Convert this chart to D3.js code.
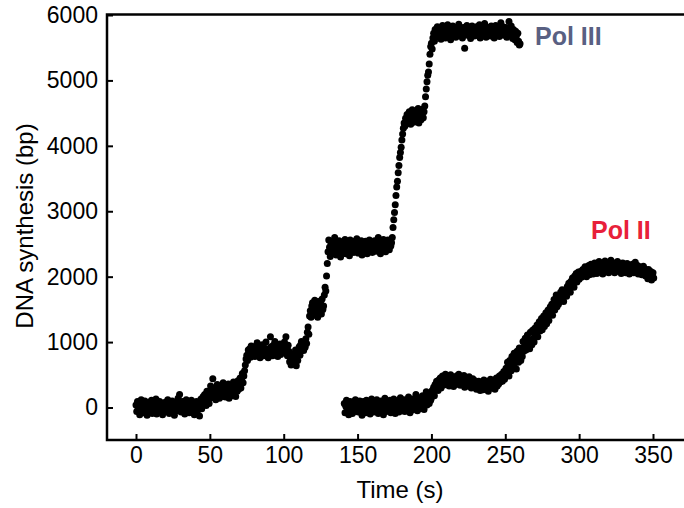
<!DOCTYPE html>
<html lang="en">
<head>
<meta charset="UTF-8">
<title>DNA synthesis: Pol III vs Pol II</title>
<script src="https://d3js.org/d3.v7.min.js"></script>
<style>
  body { margin: 0; background: #fff; }
  svg text { font-family: "Liberation Sans", Arial, sans-serif; fill: #000; }
</style>
</head>
<body>
<svg width="684" height="508"></svg>
<script>
// tick labels
const xTicks = [0, 50, 100, 150, 200, 250, 300, 350];
const yTicks = [0, 1000, 2000, 3000, 4000, 5000, 6000];

const sampleStep = 0.5;
const polIIIStart = 0;
const polIIIValues = [
  40,-60,90,-20,10,-110,60,120,-40,30,-80,20,100,-30,50,-120,0,80,-60,40,
  -20,110,-90,30,70,-50,10,130,-100,20,60,-30,90,-70,0,40,-110,70,20,-40,
  80,-60,30,120,-20,-90,50,10,-40,100,-10,60,-120,30,80,-50,20,140,-30,200,
  60,-70,10,90,-40,30,-100,50,120,-20,0,70,-80,40,-30,110,-60,20,80,-110,
  30,-40,90,-90,10,60,-130,40,130,-20,90,170,60,200,120,30,250,100,180,60,
  210,330,150,260,440,180,300,220,120,280,350,190,260,140,310,230,170,290,380,210,
  250,160,320,270,200,360,140,290,230,330,180,260,390,220,300,170,340,250,410,280,
  350,450,300,420,520,380,480,560,650,740,800,720,880,820,900,770,940,860,810,930,
  850,780,920,880,990,800,860,940,760,890,830,960,870,790,910,850,1000,820,880,760,
  900,840,1080,930,870,790,950,860,1010,820,880,940,780,900,850,970,810,890,930,860,
  920,1000,840,1080,880,790,950,860,700,780,650,740,820,690,760,710,880,640,790,720,
  850,930,800,960,1010,880,940,870,1000,920,1050,980,1150,1230,1120,1400,1480,1380,1550,1600,
  1450,1520,1640,1410,1560,1500,1380,1620,1470,1530,1590,1430,1660,1500,1550,1720,1840,1780,2010,2200,
  2380,2560,2450,2310,2500,2420,2540,2370,2480,2600,2400,2330,2510,2460,2390,2550,2440,2300,2490,2420,
  2530,2380,2470,2570,2350,2440,2510,2400,2480,2320,2560,2430,2390,2500,2450,2370,2540,2470,2410,2580,
  2440,2360,2520,2480,2400,2550,2330,2460,2500,2420,2380,2540,2470,2350,2490,2430,2560,2400,2450,2510,
  2370,2480,2420,2550,2460,2390,2520,2440,2600,2410,2480,2350,2530,2460,2400,2570,2490,2430,2380,2520,
  2450,2560,2480,2410,2540,2470,2520,2600,2750,2870,2980,3100,3240,3370,3460,3590,3700,3820,3900,3980,
  4090,4180,4270,4350,4300,4420,4380,4480,4350,4430,4520,4400,4330,4470,4550,4410,4360,4490,4440,4380,
  4500,4420,4570,4350,4460,4530,4400,4480,4560,4430,4520,4610,4750,4870,4980,5080,5130,5250,5400,5520,
  5570,5480,5650,5720,5600,5780,5690,5750,5820,5660,5740,5700,5800,5630,5760,5840,5690,5730,5790,5650,
  5770,5710,5850,5680,5740,5800,5620,5760,5720,5830,5690,5750,5810,5660,5780,5730,5700,5860,5740,5680,
  5790,5720,5650,5810,5750,5490,5700,5780,5840,5690,5760,5720,5800,5640,5770,5830,5710,5750,5680,5790,
  5740,5820,5690,5760,5710,5850,5650,5780,5730,5800,5690,5760,5870,5720,5660,5790,5740,5810,5700,5760,
  5680,5830,5750,5710,5790,5650,5760,5840,5720,5690,5800,5740,5670,5780,5880,5730,5700,5820,5760,5690,
  5750,5810,5660,5780,5720,5900,5690,5760,5830,5710,5640,5780,5700,5620,5750,5680,5580,5720,5600,5540,
  5560
];
const polIIStart = 141;
const polIIValues = [
  60,-80,20,110,-40,50,-110,30,90,-20,10,-90,70,0,-60,120,40,-30,80,-70,
  20,100,-50,60,-120,30,90,-10,50,-80,110,0,-40,70,20,-100,60,130,-20,40,
  -70,80,10,-30,120,50,-90,20,60,-50,100,-10,30,-110,70,140,0,-60,50,90,
  -40,20,110,-80,60,10,-30,130,70,-90,40,100,-20,60,-70,30,150,0,80,-50,
  40,120,-60,90,20,-30,70,160,10,-80,100,50,-40,130,80,-10,60,200,30,-50,
  110,70,-20,150,90,20,180,60,-30,120,80,240,40,130,170,60,200,110,150,260,
  230,310,180,350,280,400,330,260,420,370,450,300,390,480,340,420,360,510,400,440,
  380,470,330,420,500,360,440,390,320,460,410,350,480,430,370,510,400,340,450,390,
  420,360,490,310,430,380,450,330,400,470,350,420,300,390,440,360,320,410,370,280,
  350,290,400,330,260,380,310,350,270,420,320,360,290,400,340,250,380,310,430,350,
  300,390,340,420,280,370,450,330,410,360,480,390,440,510,400,470,550,430,520,600,
  520,690,600,480,720,640,560,780,700,610,830,680,750,590,860,770,690,910,800,720,
  900,780,1010,860,940,1060,880,990,1110,940,1020,900,1150,1030,960,1180,1060,1000,1210,1090,
  1140,1260,1080,1220,1310,1170,1250,1360,1190,1290,1400,1240,1320,1450,1280,1370,1490,1330,1420,1540,
  1460,1580,1410,1530,1650,1490,1600,1720,1540,1660,1580,1710,1620,1760,1650,1800,1690,1620,1780,1730,
  1790,1700,1850,1760,1900,1820,1760,1930,1870,1980,1900,1840,2010,1950,2050,1920,1990,2070,1960,2030,
  2080,1990,2050,2110,2020,2090,2150,2060,2000,2120,2080,2170,2030,2100,2190,2070,2130,2040,2160,2210,
  2090,2140,2050,2180,2110,2230,2070,2150,2200,2100,2040,2170,2120,2240,2080,2160,2200,2110,2060,2190,
  2130,2250,2090,2170,2120,2210,2060,2150,2190,2100,2230,2140,2080,2180,2120,2050,2160,2210,2090,2140,
  2180,2060,2130,2200,2100,2150,2040,2170,2110,2080,2190,2130,2060,2150,2220,2090,2120,2170,2040,2110,
  2150,2080,2130,2030,2100,2160,2070,2120,2010,2090,2050,1970,2110,2040,1990,2080,1950,2020,2060,1980
];

const frame = { left: 107, top: 14.5, right: 684, bottom: 440 };

const svg = d3.select("svg");

const x = d3.scaleLinear().domain([0, 350]).range([136, 653]);
const y = d3.scaleLinear().domain([0, 6000]).range([407.5, 15]);

const toPoints = (start, vals) => vals.map((v, i) => ({ t: start + i * sampleStep, v: v }));
const polIII = toPoints(polIIIStart, polIIIValues);
const polII = toPoints(polIIStart, polIIValues);

// dots
svg.append("g").selectAll("circle")
  .data(polIII.concat(polII))
  .join("circle")
  .attr("cx", d => x(d.t))
  .attr("cy", d => y(d.v))
  .attr("r", 3.5)
  .attr("fill", "#000");

// axes, ticks pointing inward
const yAxis = svg.append("g")
  .attr("transform", `translate(${frame.left},0)`)
  .call(d3.axisLeft(y).tickValues(yTicks).tickSize(-6).tickPadding(9).tickFormat(d3.format("d")));
const xAxis = svg.append("g")
  .attr("transform", `translate(0,${frame.bottom})`)
  .call(d3.axisBottom(x).tickValues(xTicks).tickSize(-6).tickPadding(7).tickFormat(d3.format("d")));

[yAxis, xAxis].forEach(a => {
  a.select(".domain").remove();
  a.selectAll(".tick line").attr("stroke", "#000").attr("stroke-width", 2);
  a.selectAll(".tick text").style("font-size", "23px").attr("fill", "#000");
});

// frame: left, top and bottom lines
svg.append("path")
  .attr("d", `M${frame.right},${frame.top}H${frame.left}V${frame.bottom}H${frame.right}`)
  .attr("fill", "none")
  .attr("stroke", "#000")
  .attr("stroke-width", 2.5);

// axis titles
svg.append("text")
  .attr("x", 400).attr("y", 498)
  .attr("text-anchor", "middle")
  .style("font-size", "24px")
  .text("Time (s)");

svg.append("text")
  .attr("transform", "translate(33,226) rotate(-90)")
  .attr("text-anchor", "middle")
  .style("font-size", "24px")
  .text("DNA synthesis (bp)");

// series labels
svg.append("text")
  .attr("x", 535).attr("y", 45)
  .style("font-size", "25px").style("font-weight", "bold")
  .style("fill", "#596082")
  .text("Pol III");

svg.append("text")
  .attr("x", 591).attr("y", 239)
  .style("font-size", "25px").style("font-weight", "bold")
  .style("fill", "#e8203a")
  .text("Pol II");
</script>
</body>
</html>
